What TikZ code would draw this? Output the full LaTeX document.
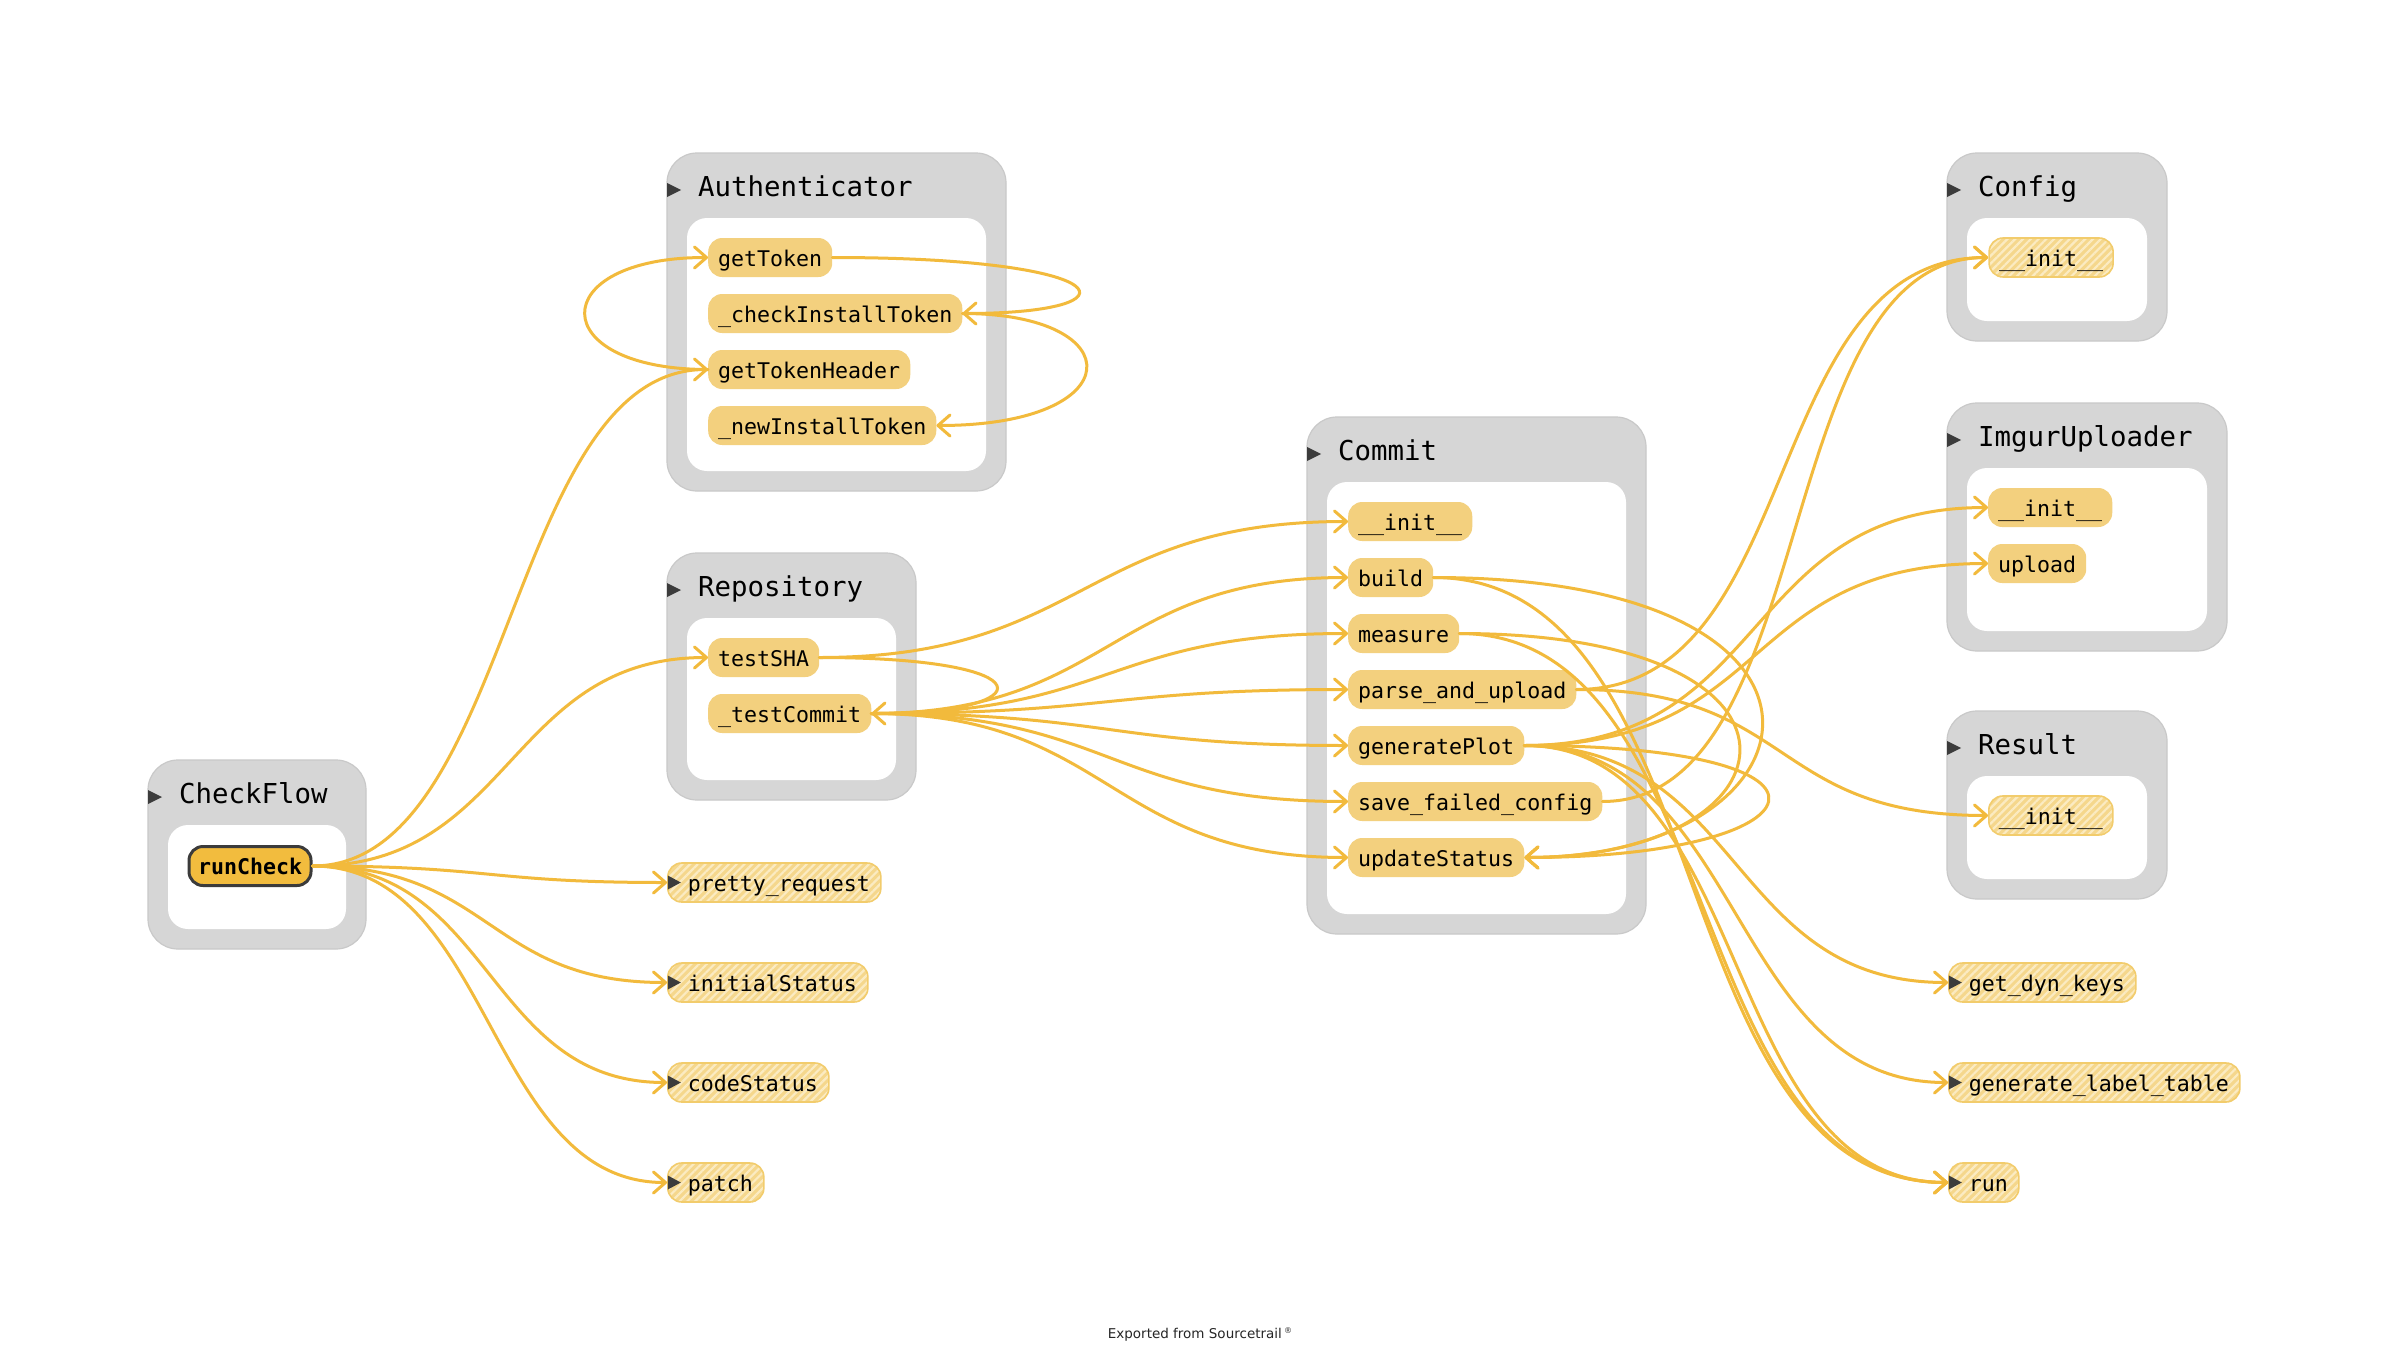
\documentclass[tikz,border=0pt]{standalone}
\usepackage{fontspec}
\newfontfamily\codefont{DejaVu Sans Mono}
\newfontfamily\footfont{DejaVu Sans}
\usetikzlibrary{arrows.meta,patterns.meta}

\definecolor{groupgray}{HTML}{D6D6D6}
\definecolor{groupline}{HTML}{C9C9C9}
\definecolor{fnfill}{HTML}{F3D07E}
\definecolor{activefill}{HTML}{F2BC3E}
\definecolor{activeline}{HTML}{3B3B3B}
\definecolor{callcol}{HTML}{F2BA3C}
\definecolor{hatchbase}{HTML}{F5D78C}
\definecolor{hatchstripe}{HTML}{FBEBC2}
\definecolor{hatchline}{HTML}{F2CC6C}
\definecolor{marker}{HTML}{3C3C3C}

\begin{document}
\begin{tikzpicture}[x=1pt,y=-1pt,
  outerbox/.style={fill=groupgray, draw=groupline, line width=1.2pt, rounded corners=30pt},
  innerbox/.style={fill=white, rounded corners=20pt},
  grouptitle/.style={anchor=base west, inner sep=0pt, font=\codefont\fontsize{27.4}{30}\selectfont},
  fn/.style={anchor=west, fill=fnfill, rounded corners=14pt, minimum height=39pt,
    inner ysep=0pt, inner xsep=10pt, text height=20pt, text depth=3pt,
    font=\codefont\fontsize{21.6}{24}\selectfont},
  activefn/.style={fn, fill=activefill, draw=activeline, line width=3pt, inner xsep=9pt,
    font=\codefont\bfseries\fontsize{21.6}{24}\selectfont},
  hatched/.style={draw=hatchline, line width=1.6pt,
    preaction={fill=hatchbase},
    pattern={Lines[angle=45,distance=5.5pt,line width=2.2pt]}, pattern color=hatchstripe},
  hatchfn/.style={fn, hatched},
  extfn/.style={fn, hatched, inner xsep=11pt, execute at begin node={\hspace*{9pt}}},
  call/.style={draw=callcol, line width=3pt, line cap=round,
    -{Straight Barb[length=12pt,width=21pt,round]}},
]
\useasboundingbox (0,0) rectangle (2394,1352);
\fill[white] (0,0) rectangle (2394,1352);

% ---- class groups: outer frame, inner body, title, collapse marker
\newcommand\classgroup[6]{%
  \path[outerbox] (#1,#2) rectangle (#3,#4);
  \path[innerbox] (#1+20,#2+65) rectangle (#3-20,#4-20);
  \node[grouptitle] (#5) at (#1+31,#2+43) {#6};
  \fill[marker] (#1,#2+30) -- (#1+14,#2+37) -- (#1,#2+44) -- cycle;
}
\classgroup{148}{760}{366}{949}{tCheckFlow}{CheckFlow}
\classgroup{667}{153}{1006}{491}{tAuth}{Authenticator}
\classgroup{667}{553}{916}{800}{tRepo}{Repository}
\classgroup{1307}{417}{1646}{934}{tCommit}{Commit}
\classgroup{1947}{153}{2167}{341}{tConfig}{Config}
\classgroup{1947}{403}{2227}{651}{tImgur}{ImgurUploader}
\classgroup{1947}{711}{2167}{899}{tResult}{Result}

% ---- functions
\node[activefn] (rc) at (187.5,866) {runCheck};

\node[fn] (gt)  at (708,257.5) {getToken};
\node[fn] (cit) at (708,313.5) {\_checkInstallToken};
\node[fn] (gth) at (708,369.5) {getTokenHeader};
\node[fn] (nit) at (708,425.5) {\_newInstallToken};

\node[fn] (sha) at (708,657.5) {testSHA};
\node[fn] (tc)  at (708,713.5) {\_testCommit};

\node[fn] (ci)  at (1348,521.5) {\_\_init\_\_};
\node[fn] (cb)  at (1348,577.5) {build};
\node[fn] (cm)  at (1348,633.5) {measure};
\node[fn] (cp)  at (1348,689.5) {parse\_and\_upload};
\node[fn] (cg)  at (1348,745.5) {generatePlot};
\node[fn] (csf) at (1348,801.5) {save\_failed\_config};
\node[fn] (cu)  at (1348,857.5) {updateStatus};

\node[hatchfn] (cfi) at (1988,257.5) {\_\_init\_\_};
\node[fn] (ii)  at (1988,507.5) {\_\_init\_\_};
\node[fn] (iu)  at (1988,563.5) {upload};
\node[hatchfn] (ri) at (1988,815.5) {\_\_init\_\_};

\node[extfn] (pr)  at (667,882.5)  {pretty\_request};
\node[extfn] (is)  at (667,982.5)  {initialStatus};
\node[extfn] (cst) at (667,1082.5) {codeStatus};
\node[extfn] (pa)  at (667,1182.5) {patch};

\node[extfn] (gk) at (1948,982.5)  {get\_dyn\_keys};
\node[extfn] (gl) at (1948,1082.5) {generate\_label\_table};
\node[extfn] (rn) at (1948,1182.5) {run};

% markers of the free functions
\foreach \n in {pr,is,cst,pa,gk,gl,rn}
  \fill[marker] (\n.west) ++(0.8,-7) -- ++(13,7) -- ++(-13,7) -- cycle;

% ---- calls from CheckFlow.runCheck
\draw[call] (rc.east) .. controls +(200,0) and +(-200,0) .. (gth.west);
\draw[call] (rc.east) .. controls +(200,0) and +(-200,0) .. (sha.west);
\draw[call] (rc.east) .. controls +(180,0) and +(-180,0) .. (pr.west);
\draw[call] (rc.east) .. controls +(180,0) and +(-180,0) .. (is.west);
\draw[call] (rc.east) .. controls +(180,0) and +(-180,0) .. (cst.west);
\draw[call] (rc.east) .. controls +(180,0) and +(-180,0) .. (pa.west);

% ---- calls inside Authenticator
\draw[call] (gt.east) .. controls +(290,0) and +(182,0) .. (cit.east);
\draw[call] (cit.east) .. controls +(170,0) and +(195,0) .. (nit.east);
\draw[call] (gth.west) .. controls +(-164,0) and +(-164,0) .. (gt.west);

% ---- calls from Repository
\draw[call] (sha.east) .. controls +(230,0) and +(173,0) .. (tc.east);
\draw[call] (sha.east) .. controls +(265,0) and +(-265,0) .. (ci.west);
\foreach \t in {cb,cm,cp,cg,csf,cu}
  \draw[call] (tc.east) .. controls +(240,0) and +(-240,0) .. (\t.west);

% ---- calls from Commit
\draw[call] (cb.east) .. controls +(450,0) and +(305,0) .. (cu.east);
\draw[call] (cm.east) .. controls +(380,0) and +(280,0) .. (cu.east);
\draw[call] (cg.east) .. controls +(350,0) and +(300,0) .. (cu.east);
\draw[call] (cb.east) .. controls +(290,0) and +(-290,0) .. (rn.west);
\draw[call] (cm.east) .. controls +(270,0) and +(-270,0) .. (rn.west);
\draw[call] (cg.east) .. controls +(230,0) and +(-230,0) .. (rn.west);
\draw[call] (cp.east) .. controls +(230,0) and +(-230,0) .. (cfi.west);
\draw[call] (csf.east) .. controls +(220,0) and +(-220,0) .. (cfi.west);
\draw[call] (cp.east) .. controls +(220,0) and +(-220,0) .. (ri.west);
\draw[call] (cg.east) .. controls +(250,0) and +(-250,0) .. (ii.west);
\draw[call] (cg.east) .. controls +(250,0) and +(-250,0) .. (iu.west);
\draw[call] (cg.east) .. controls +(220,0) and +(-220,0) .. (gk.west);
\draw[call] (cg.east) .. controls +(220,0) and +(-220,0) .. (gl.west);

% ---- footer
\node[anchor=base, inner sep=0pt, text=black!85, font=\footfont\fontsize{13.5}{16}\selectfont] (foot)
  at (1200,1338) {Exported from Sourcetrail\,\raisebox{5pt}{\fontsize{8}{8}\selectfont ®}};
\end{tikzpicture}
\end{document}
